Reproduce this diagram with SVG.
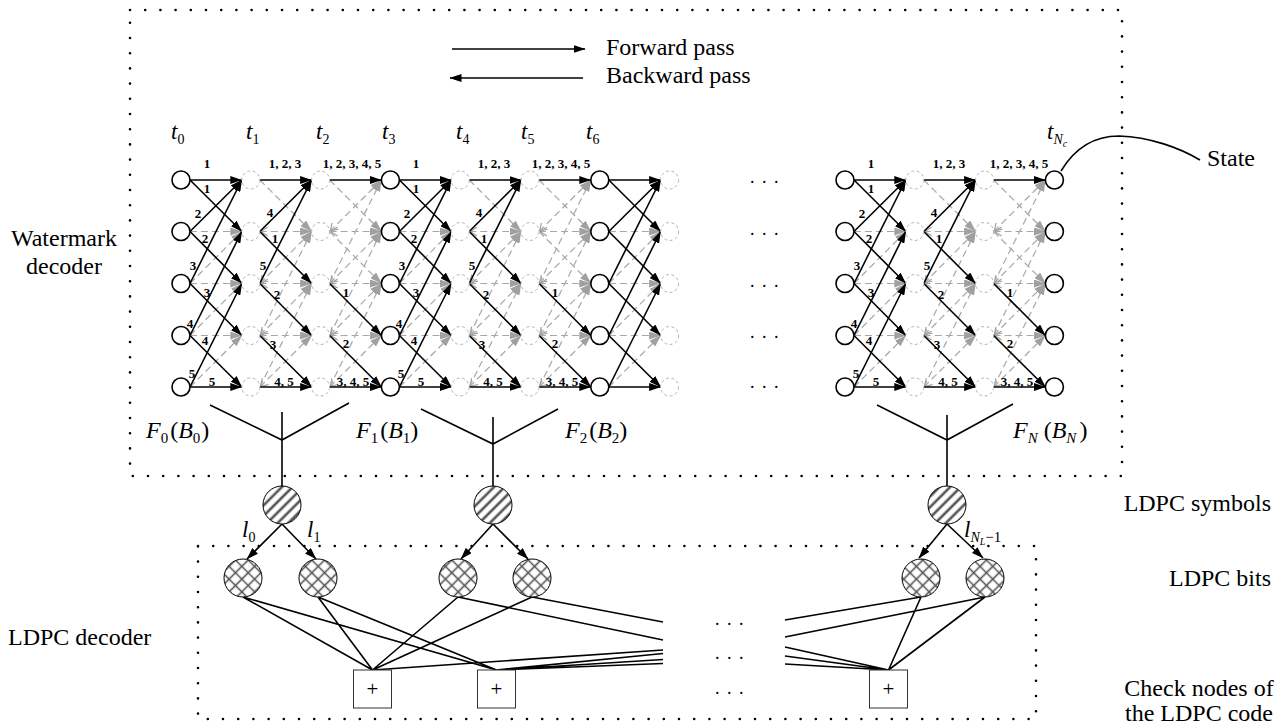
<svg xmlns="http://www.w3.org/2000/svg" width="1287" height="724" viewBox="0 0 1287 724">
<style>
text{font-family:"Liberation Serif","Times New Roman",serif;fill:#000}
.lb{font-weight:bold;font-size:13px;text-anchor:middle}
.side{font-size:24px}
.t{font-size:23px;font-style:italic}
.sb{font-size:14px;font-style:normal}
.g{stroke:#a8a8a8;stroke-width:1.2;stroke-dasharray:7 4;fill:none;marker-end:url(#ag)}
.gb{stroke:#a8a8a8;stroke-width:1.2;stroke-dasharray:7 4;fill:none;marker-end:url(#ag);marker-start:url(#cg)}
.k{stroke:#000;stroke-width:1.6;fill:none;marker-end:url(#ab)}
.ln{stroke:#000;stroke-width:1.6;fill:none}
.s{fill:#fff;stroke:#000;stroke-width:1.6}
.d{fill:#fff;stroke:#b4b4b4;stroke-width:1;stroke-dasharray:3 2.5}
.dot{fill:none;stroke:#000;stroke-width:2.6;stroke-linecap:round;stroke-dasharray:0 15.2}
.sym{fill:url(#hs);stroke:#000;stroke-width:1}
.bit{fill:url(#hx);stroke:#000;stroke-width:1}
.chk{fill:#fff;stroke:#333;stroke-width:1}
</style>
<defs>
<marker id="ab" viewBox="0 0 12 8" refX="11.5" refY="4" markerWidth="12" markerHeight="8" markerUnits="userSpaceOnUse" orient="auto"><path d="M0,0 L12,4 L0,8 z" fill="#000"/></marker>
<marker id="ag" viewBox="0 0 12 8" refX="11.5" refY="4" markerWidth="12" markerHeight="8" markerUnits="userSpaceOnUse" orient="auto"><path d="M0,0 L12,4 L0,8 z" fill="#a0a0a0"/></marker>
<marker id="cg" viewBox="0 0 8 10" refX="0" refY="5" markerWidth="8" markerHeight="10" markerUnits="userSpaceOnUse" orient="auto"><path d="M8,0.5 L1,5 L8,9.5" fill="none" stroke="#a0a0a0" stroke-width="1.2"/></marker>
<pattern id="hs" patternUnits="userSpaceOnUse" width="7.5" height="7.5" patternTransform="rotate(45)"><rect width="7.5" height="7.5" fill="#fff"/><rect x="2.4" y="0" width="2.6" height="7.5" fill="#555"/></pattern>
<pattern id="hx" patternUnits="userSpaceOnUse" width="9" height="9" patternTransform="rotate(45)"><rect width="9" height="9" fill="#fff"/><path d="M4.5,0 V9 M0,4.5 H9" stroke="#555" stroke-width="1.6"/></pattern>
<g id="pA">
<line class="g" x1="9" y1="231.5" x2="60.8" y2="231.5"/>
<line class="g" x1="9" y1="283.5" x2="60.8" y2="283.5"/>
<line class="g" x1="9" y1="335.5" x2="60.8" y2="335.5"/>
<line class="g" x1="9" y1="283.5" x2="60.8" y2="231.5"/>
<line class="g" x1="9" y1="335.5" x2="60.8" y2="283.5"/>
<line class="g" x1="9" y1="387" x2="60.8" y2="335.5"/>
<line class="k" x1="9" y1="180" x2="60.8" y2="180"/>
<line class="k" x1="9" y1="180" x2="60.8" y2="231.5"/>
<line class="k" x1="9" y1="231.5" x2="60.8" y2="180"/>
<line class="k" x1="9" y1="231.5" x2="60.8" y2="283.5"/>
<line class="k" x1="9" y1="283.5" x2="60.8" y2="180"/>
<line class="k" x1="9" y1="283.5" x2="60.8" y2="335.5"/>
<line class="k" x1="9" y1="335.5" x2="60.8" y2="231.5"/>
<line class="k" x1="9" y1="335.5" x2="60.8" y2="387"/>
<line class="k" x1="9" y1="387" x2="60.8" y2="283.5"/>
<line class="k" x1="9" y1="387" x2="60.8" y2="387"/>
</g>
<g id="pB">
<line class="gb" x1="9" y1="231.5" x2="60.8" y2="231.5"/>
<line class="gb" x1="9" y1="283.5" x2="60.8" y2="283.5"/>
<line class="gb" x1="9" y1="335.5" x2="60.8" y2="335.5"/>
<line class="g" x1="9" y1="180" x2="60.8" y2="231.5"/>
<line class="gb" x1="9" y1="283.5" x2="60.8" y2="231.5"/>
<line class="gb" x1="9" y1="335.5" x2="60.8" y2="283.5"/>
<line class="gb" x1="9" y1="387" x2="60.8" y2="335.5"/>
<line class="g" x1="9" y1="335.5" x2="60.8" y2="231.5"/>
<line class="g" x1="9" y1="387" x2="60.8" y2="283.5"/>
<line class="k" x1="9" y1="180" x2="60.8" y2="180"/>
<line class="k" x1="9" y1="231.5" x2="60.8" y2="180"/>
<line class="k" x1="9" y1="283.5" x2="60.8" y2="180"/>
<line class="k" x1="9" y1="231.5" x2="60.8" y2="283.5"/>
<line class="k" x1="9" y1="283.5" x2="60.8" y2="335.5"/>
<line class="k" x1="9" y1="335.5" x2="60.8" y2="387"/>
<line class="k" x1="9" y1="387" x2="60.8" y2="387"/>
</g>
<g id="pC">
<line class="gb" x1="9" y1="231.5" x2="60.8" y2="231.5"/>
<line class="gb" x1="9" y1="283.5" x2="60.8" y2="283.5"/>
<line class="gb" x1="9" y1="335.5" x2="60.8" y2="335.5"/>
<line class="g" x1="9" y1="180" x2="60.8" y2="231.5"/>
<line class="g" x1="9" y1="231.5" x2="60.8" y2="283.5"/>
<line class="gb" x1="9" y1="231.5" x2="60.8" y2="180"/>
<line class="gb" x1="9" y1="283.5" x2="60.8" y2="231.5"/>
<line class="gb" x1="9" y1="335.5" x2="60.8" y2="283.5"/>
<line class="gb" x1="9" y1="387" x2="60.8" y2="335.5"/>
<line class="g" x1="9" y1="283.5" x2="60.8" y2="180"/>
<line class="g" x1="9" y1="335.5" x2="60.8" y2="231.5"/>
<line class="g" x1="9" y1="387" x2="60.8" y2="283.5"/>
<line class="k" x1="9" y1="180" x2="60.8" y2="180"/>
<line class="k" x1="9" y1="283.5" x2="60.8" y2="335.5"/>
<line class="k" x1="9" y1="335.5" x2="60.8" y2="387"/>
<line class="k" x1="9" y1="387" x2="60.8" y2="387"/>
</g>
</defs>
<rect width="1287" height="724" fill="#fff"/>

<!-- boundaries -->
<g id="boxes">
<rect class="dot" x="130" y="10" width="992" height="466"/>
<rect class="dot" x="198" y="546" width="838" height="173"/>
</g>

<!-- legend -->
<g id="legend">
<line class="k" x1="452" y1="49" x2="585" y2="49"/>
<line class="k" x1="583" y1="78" x2="450" y2="78"/>
<text class="side" x="606" y="55">Forward pass</text>
<text class="side" x="606" y="83">Backward pass</text>
</g>

<g id="connectors">
<use href="#pA" x="181"/>
<use href="#pB" x="250.8"/>
<use href="#pC" x="320.6"/>
<use href="#pA" x="390.4"/>
<use href="#pB" x="460.2"/>
<use href="#pC" x="530"/>
<use href="#pA" x="599.8"/>
<use href="#pA" x="845"/>
<use href="#pB" x="914.8"/>
<use href="#pC" x="984.6"/>
<!-- forks -->
<path class="ln" d="M210,405 L282,440 L349,403 M282,412 V486"/>
<path class="ln" d="M421,409 L493,444 L558,409 M493,417 V486"/>
<path class="ln" d="M877,405 L947,440 L1013,404 M947,415 V486"/>
<!-- symbols to bits -->
<line class="k" x1="282" y1="524" x2="247" y2="559"/>
<line class="k" x1="282" y1="524" x2="316" y2="559"/>
<line class="k" x1="493" y1="524" x2="461" y2="559"/>
<line class="k" x1="493" y1="524" x2="528" y2="559"/>
<line class="k" x1="947" y1="524" x2="919" y2="558"/>
<line class="k" x1="947" y1="524" x2="983" y2="558"/>
<!-- bits to checks -->
<path class="ln" d="M243,597 L372.5,670 M243,597 L496.5,670 M318,597 L372.5,670 M318,597 L496.5,670 M458,597 L372.5,670 M532,597 L372.5,670 M458,597 L663,640 M532,597 L663,622 M372.5,670 L663,650 M496.5,670 L663,653.5 M496.5,670 L663,659.5 M496.5,670 L663,663.5"/>
<path class="ln" d="M785,620 L921,597 M785,637 L985,597 M785,647 L888.5,670 M785,656 L888.5,670 M785,664 L888.5,670 M921,597 L888.5,670 M985,597 L888.5,670"/>
<!-- state pointer -->
<path class="ln" d="M1061,171 C1076,146 1096,136 1119,136 C1150,137 1180,148 1200,160"/>
</g>

<!-- trellis nodes -->
<g id="t0r1"><circle class="s" cx="181" cy="180" r="9"/></g>
<g id="t0r2"><circle class="s" cx="181" cy="231.5" r="9"/></g>
<g id="t0r3"><circle class="s" cx="181" cy="283.5" r="9"/></g>
<g id="t0r4"><circle class="s" cx="181" cy="335.5" r="9"/></g>
<g id="t0r5"><circle class="s" cx="181" cy="387" r="9"/></g>
<g id="t1r1"><circle class="d" cx="250.8" cy="180" r="9"/></g>
<g id="t1r2"><circle class="d" cx="250.8" cy="231.5" r="9"/></g>
<g id="t1r3"><circle class="d" cx="250.8" cy="283.5" r="9"/></g>
<g id="t1r4"><circle class="d" cx="250.8" cy="335.5" r="9"/></g>
<g id="t1r5"><circle class="d" cx="250.8" cy="387" r="9"/></g>
<g id="t2r1"><circle class="d" cx="320.6" cy="180" r="9"/></g>
<g id="t2r2"><circle class="d" cx="320.6" cy="231.5" r="9"/></g>
<g id="t2r3"><circle class="d" cx="320.6" cy="283.5" r="9"/></g>
<g id="t2r4"><circle class="d" cx="320.6" cy="335.5" r="9"/></g>
<g id="t2r5"><circle class="d" cx="320.6" cy="387" r="9"/></g>
<g id="t3r1"><circle class="s" cx="390.4" cy="180" r="9"/></g>
<g id="t3r2"><circle class="s" cx="390.4" cy="231.5" r="9"/></g>
<g id="t3r3"><circle class="s" cx="390.4" cy="283.5" r="9"/></g>
<g id="t3r4"><circle class="s" cx="390.4" cy="335.5" r="9"/></g>
<g id="t3r5"><circle class="s" cx="390.4" cy="387" r="9"/></g>
<g id="t4r1"><circle class="d" cx="460.2" cy="180" r="9"/></g>
<g id="t4r2"><circle class="d" cx="460.2" cy="231.5" r="9"/></g>
<g id="t4r3"><circle class="d" cx="460.2" cy="283.5" r="9"/></g>
<g id="t4r4"><circle class="d" cx="460.2" cy="335.5" r="9"/></g>
<g id="t4r5"><circle class="d" cx="460.2" cy="387" r="9"/></g>
<g id="t5r1"><circle class="d" cx="530" cy="180" r="9"/></g>
<g id="t5r2"><circle class="d" cx="530" cy="231.5" r="9"/></g>
<g id="t5r3"><circle class="d" cx="530" cy="283.5" r="9"/></g>
<g id="t5r4"><circle class="d" cx="530" cy="335.5" r="9"/></g>
<g id="t5r5"><circle class="d" cx="530" cy="387" r="9"/></g>
<g id="t6r1"><circle class="s" cx="599.8" cy="180" r="9"/></g>
<g id="t6r2"><circle class="s" cx="599.8" cy="231.5" r="9"/></g>
<g id="t6r3"><circle class="s" cx="599.8" cy="283.5" r="9"/></g>
<g id="t6r4"><circle class="s" cx="599.8" cy="335.5" r="9"/></g>
<g id="t6r5"><circle class="s" cx="599.8" cy="387" r="9"/></g>
<g id="t7r1"><circle class="d" cx="669.6" cy="180" r="9"/></g>
<g id="t7r2"><circle class="d" cx="669.6" cy="231.5" r="9"/></g>
<g id="t7r3"><circle class="d" cx="669.6" cy="283.5" r="9"/></g>
<g id="t7r4"><circle class="d" cx="669.6" cy="335.5" r="9"/></g>
<g id="t7r5"><circle class="d" cx="669.6" cy="387" r="9"/></g>
<g id="e0r1"><circle class="s" cx="845" cy="180" r="9"/></g>
<g id="e0r2"><circle class="s" cx="845" cy="231.5" r="9"/></g>
<g id="e0r3"><circle class="s" cx="845" cy="283.5" r="9"/></g>
<g id="e0r4"><circle class="s" cx="845" cy="335.5" r="9"/></g>
<g id="e0r5"><circle class="s" cx="845" cy="387" r="9"/></g>
<g id="e1r1"><circle class="d" cx="914.8" cy="180" r="9"/></g>
<g id="e1r2"><circle class="d" cx="914.8" cy="231.5" r="9"/></g>
<g id="e1r3"><circle class="d" cx="914.8" cy="283.5" r="9"/></g>
<g id="e1r4"><circle class="d" cx="914.8" cy="335.5" r="9"/></g>
<g id="e1r5"><circle class="d" cx="914.8" cy="387" r="9"/></g>
<g id="e2r1"><circle class="d" cx="984.6" cy="180" r="9"/></g>
<g id="e2r2"><circle class="d" cx="984.6" cy="231.5" r="9"/></g>
<g id="e2r3"><circle class="d" cx="984.6" cy="283.5" r="9"/></g>
<g id="e2r4"><circle class="d" cx="984.6" cy="335.5" r="9"/></g>
<g id="e2r5"><circle class="d" cx="984.6" cy="387" r="9"/></g>
<g id="e3r1"><circle class="s" cx="1054.4" cy="180" r="9"/></g>
<g id="e3r2"><circle class="s" cx="1054.4" cy="231.5" r="9"/></g>
<g id="e3r3"><circle class="s" cx="1054.4" cy="283.5" r="9"/></g>
<g id="e3r4"><circle class="s" cx="1054.4" cy="335.5" r="9"/></g>
<g id="e3r5"><circle class="s" cx="1054.4" cy="387" r="9"/></g>

<!-- LDPC nodes -->
<g id="sym0"><circle class="sym" cx="282" cy="505" r="19"/></g>
<g id="sym1"><circle class="sym" cx="493" cy="505" r="19"/></g>
<g id="sym2"><circle class="sym" cx="947" cy="505" r="19"/></g>
<g id="bit0"><circle class="bit" cx="243" cy="578" r="19"/></g>
<g id="bit1"><circle class="bit" cx="318" cy="578" r="19"/></g>
<g id="bit2"><circle class="bit" cx="458" cy="578" r="19"/></g>
<g id="bit3"><circle class="bit" cx="532" cy="578" r="19"/></g>
<g id="bit4"><circle class="bit" cx="921" cy="578" r="19"/></g>
<g id="bit5"><circle class="bit" cx="985" cy="578" r="19"/></g>
<g id="chk0"><rect class="chk" x="353.5" y="670" width="38" height="38"/><text x="372.5" y="696" font-size="21" text-anchor="middle">+</text></g>
<g id="chk1"><rect class="chk" x="477.5" y="670" width="38" height="38"/><text x="496.5" y="696" font-size="21" text-anchor="middle">+</text></g>
<g id="chk2"><rect class="chk" x="869.5" y="670" width="38" height="38"/><text x="888.5" y="696" font-size="21" text-anchor="middle">+</text></g>

<!-- transition labels -->
<g id="labels">
<text class="lb" x="207" y="168">1</text><text class="lb" x="207" y="193">1</text><text class="lb" x="198" y="218">2</text><text class="lb" x="205" y="243">2</text><text class="lb" x="193" y="270">3</text><text class="lb" x="207" y="297">3</text><text class="lb" x="190" y="328">4</text><text class="lb" x="205" y="345">4</text><text class="lb" x="192" y="378">5</text><text class="lb" x="212" y="386">5</text>
<text class="lb" x="285" y="168">1, 2, 3</text><text class="lb" x="270" y="217">4</text><text class="lb" x="275" y="243">1</text><text class="lb" x="263" y="270">5</text><text class="lb" x="277" y="299">2</text><text class="lb" x="273" y="349">3</text><text class="lb" x="284" y="386">4, 5</text>
<text class="lb" x="352" y="168">1, 2, 3, 4, 5</text><text class="lb" x="346" y="297">1</text><text class="lb" x="346" y="348">2</text><text class="lb" x="353" y="386">3, 4, 5</text>

<text class="lb" x="416" y="168">1</text><text class="lb" x="416" y="193">1</text><text class="lb" x="407" y="218">2</text><text class="lb" x="414" y="243">2</text><text class="lb" x="402" y="270">3</text><text class="lb" x="416" y="297">3</text><text class="lb" x="399" y="328">4</text><text class="lb" x="414" y="345">4</text><text class="lb" x="401" y="378">5</text><text class="lb" x="421" y="386">5</text>
<text class="lb" x="494" y="168">1, 2, 3</text><text class="lb" x="479" y="217">4</text><text class="lb" x="484" y="243">1</text><text class="lb" x="472" y="270">5</text><text class="lb" x="486" y="299">2</text><text class="lb" x="482" y="349">3</text><text class="lb" x="493" y="386">4, 5</text>
<text class="lb" x="561" y="168">1, 2, 3, 4, 5</text><text class="lb" x="555" y="297">1</text><text class="lb" x="555" y="348">2</text><text class="lb" x="562" y="386">3, 4, 5</text>

<text class="lb" x="871" y="168">1</text><text class="lb" x="871" y="193">1</text><text class="lb" x="862" y="218">2</text><text class="lb" x="869" y="243">2</text><text class="lb" x="857" y="270">3</text><text class="lb" x="871" y="297">3</text><text class="lb" x="854" y="328">4</text><text class="lb" x="869" y="345">4</text><text class="lb" x="856" y="378">5</text><text class="lb" x="876" y="386">5</text>
<text class="lb" x="949" y="168">1, 2, 3</text><text class="lb" x="934" y="217">4</text><text class="lb" x="939" y="243">1</text><text class="lb" x="927" y="270">5</text><text class="lb" x="941" y="299">2</text><text class="lb" x="937" y="349">3</text><text class="lb" x="948" y="386">4, 5</text>
<text class="lb" x="1019" y="168">1, 2, 3, 4, 5</text><text class="lb" x="1010" y="297">1</text><text class="lb" x="1010" y="348">2</text><text class="lb" x="1017" y="386">3, 4, 5</text>
</g>

<!-- time labels -->
<g id="times">
<text class="t" x="171" y="139">t<tspan class="sb" dy="5">0</tspan></text>
<text class="t" x="246" y="139">t<tspan class="sb" dy="5">1</tspan></text>
<text class="t" x="316" y="139">t<tspan class="sb" dy="5">2</tspan></text>
<text class="t" x="382" y="139">t<tspan class="sb" dy="5">3</tspan></text>
<text class="t" x="456" y="139">t<tspan class="sb" dy="5">4</tspan></text>
<text class="t" x="521" y="139">t<tspan class="sb" dy="5">5</tspan></text>
<text class="t" x="586" y="139">t<tspan class="sb" dy="5">6</tspan></text>
<text class="t" x="1047" y="139">t<tspan font-size="14" dy="5">N</tspan><tspan font-size="10" dy="3">c</tspan></text>
</g>

<!-- ellipses -->
<g id="dots" font-size="18" letter-spacing="1.5">
<text x="750" y="183">. . .</text>
<text x="750" y="235">. . .</text>
<text x="750" y="287">. . .</text>
<text x="750" y="338">. . .</text>
<text x="750" y="388">. . .</text>
<text x="715" y="625">. . .</text>
<text x="715" y="659">. . .</text>
<text x="715" y="694">. . .</text>
</g>

<!-- F labels -->
<g id="flabels" font-size="24">
<text x="146" y="438"><tspan font-style="italic">F</tspan><tspan font-size="15" dy="5">0</tspan><tspan dy="-5" dx="2">(</tspan><tspan font-style="italic">B</tspan><tspan font-size="15" dy="5">0</tspan><tspan dy="-5" dx="1">)</tspan></text>
<text x="356" y="438"><tspan font-style="italic">F</tspan><tspan font-size="15" dy="5">1</tspan><tspan dy="-5" dx="2">(</tspan><tspan font-style="italic">B</tspan><tspan font-size="15" dy="5">1</tspan><tspan dy="-5">)</tspan></text>
<text x="565" y="438"><tspan font-style="italic">F</tspan><tspan font-size="15" dy="5">2</tspan><tspan dy="-5" dx="2">(</tspan><tspan font-style="italic">B</tspan><tspan font-size="15" dy="5">2</tspan><tspan dy="-5">)</tspan></text>
<text x="1013" y="438"><tspan font-style="italic">F</tspan><tspan font-size="15" font-style="italic" dy="5">N</tspan><tspan dy="-5" dx="6">(</tspan><tspan font-style="italic">B</tspan><tspan font-size="15" font-style="italic" dy="5">N</tspan><tspan dy="-5" dx="3">)</tspan></text>
</g>

<!-- l labels -->
<g id="llabels">
<text class="t" x="242" y="537">l<tspan class="sb" font-size="15" dy="5">0</tspan></text>
<text class="t" x="307" y="537">l<tspan class="sb" font-size="15" dy="5">1</tspan></text>
<text class="t" x="964" y="537">l<tspan font-size="14" dy="5">N</tspan><tspan font-size="10" dy="3">L</tspan><tspan font-size="15" font-style="normal" dy="-3">−1</tspan></text>
</g>

<!-- side labels -->
<g id="sidelabels">
<text class="side" x="64" y="246" text-anchor="middle">Watermark</text>
<text class="side" x="64" y="274" text-anchor="middle">decoder</text>
<text class="side" x="1207" y="166">State</text>
<text class="side" x="1271" y="511" text-anchor="end">LDPC symbols</text>
<text class="side" x="1271" y="586" text-anchor="end">LDPC bits</text>
<text class="side" x="8" y="645">LDPC decoder</text>
<text class="side" x="1199" y="696" text-anchor="middle" font-size="22">Check nodes of</text>
<text class="side" x="1199" y="721" text-anchor="middle" font-size="22">the LDPC code</text>
</g>
</svg>
